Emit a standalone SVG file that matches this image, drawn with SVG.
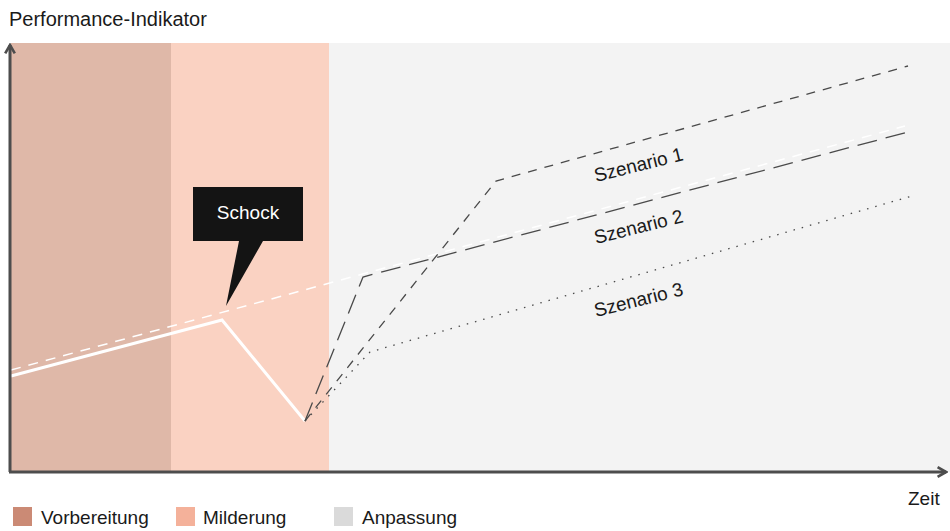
<svg xmlns="http://www.w3.org/2000/svg" width="950" height="531" viewBox="0 0 950 531">
<style>
text{font-family:"Liberation Sans",Arial,sans-serif;fill:#1a1a1a}
.lbl{font-size:19px}
.sc{fill:none;stroke:#4a4a4a;stroke-width:1.3}
.axis{fill:none;stroke:#4d4d4d;stroke-width:3}
</style>
<defs>
<marker id="ah" viewBox="0 0 10 10" refX="8" refY="5" markerWidth="4" markerHeight="4" orient="auto" markerUnits="strokeWidth">
<path d="M1,1 L8,5 L1,9" fill="none" stroke="#4d4d4d" stroke-width="2.2"/>
</marker>
</defs>
<rect width="950" height="531" fill="#ffffff"/>
<g id="phases">
<rect x="11" y="43" width="160" height="429" fill="#DFB8A8"/>
<rect x="171" y="43" width="158" height="429" fill="#FAD2C2"/>
<rect x="329" y="43" width="621" height="429" fill="#F3F3F3"/>
</g>
<g id="connectors">
<path d="M11,370 L905,126" fill="none" stroke="#ffffff" stroke-width="1.5" stroke-dasharray="10 8"/>
<path d="M11,376 L222,320 L305,421" fill="none" stroke="#ffffff" stroke-width="3"/>
<path class="sc" d="M305,421 L496,181 L908,66" stroke-dasharray="9 8"/>
<path class="sc" d="M305,421 L363,277 L908,132" stroke-dasharray="20 9"/>
<path class="sc" d="M305,421 L370,352 L912,196" stroke-dasharray="1.5 7"/>
</g>
<g id="axes">
<path class="axis" d="M10,472 L10,45" marker-end="url(#ah)"/>
<path class="axis" d="M9,472 L946,472" marker-end="url(#ah)"/>
</g>
<g id="shock">
<path d="M193,187 H303 V241 H263 L226,306 L239,241 H193 Z" fill="#141414"/>
<text x="248" y="219" font-size="19" text-anchor="middle" style="fill:#ffffff">Schock</text>
</g>
<g id="scenario1"><text class="lbl" transform="translate(596,182) rotate(-14)">Szenario 1</text></g>
<g id="scenario2"><text class="lbl" transform="translate(596,244) rotate(-14)">Szenario 2</text></g>
<g id="scenario3"><text class="lbl" transform="translate(596,317) rotate(-14)">Szenario 3</text></g>
<text x="9" y="26" font-size="20">Performance-Indikator</text>
<text x="908" y="505" font-size="19">Zeit</text>
<g id="legend">
<rect x="13" y="507" width="19" height="19" fill="#CB8A75"/>
<text x="41" y="524" font-size="19">Vorbereitung</text>
<rect x="176" y="507" width="19" height="19" fill="#F4B19A"/>
<text x="203" y="524" font-size="19">Milderung</text>
<rect x="334" y="507" width="19" height="19" fill="#DADADA"/>
<text x="362" y="524" font-size="19">Anpassung</text>
</g>
</svg>
